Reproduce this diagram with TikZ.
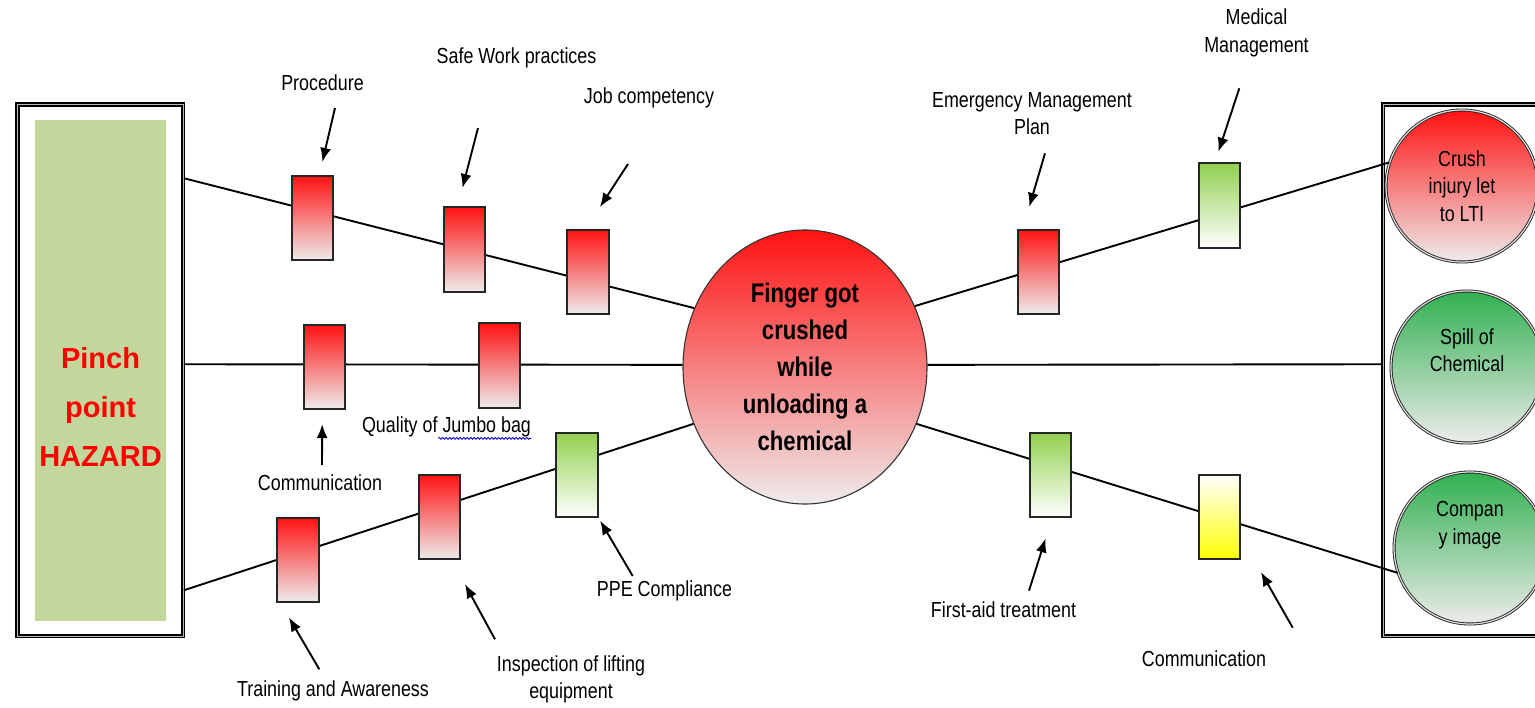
\documentclass[tikz,border=0pt]{standalone}
\usepackage{fontspec}
\setmainfont{Liberation Sans}
\newfontfamily\narrowsf{Liberation Sans}[FakeStretch=0.82]
\usepackage{tikz}
\usetikzlibrary{arrows.meta, shapes.geometric, decorations.pathmorphing}

\definecolor{barred}{RGB}{255,18,18}
\definecolor{barfade}{RGB}{238,236,236}
\definecolor{bargreen}{RGB}{146,208,80}
\definecolor{baryellow}{RGB}{255,255,0}
\definecolor{hazgreen}{RGB}{195,214,155}
\definecolor{conseqgreen}{RGB}{48,176,80}

\begin{document}
\begin{tikzpicture}[x=1pt, y=-1pt,
    frame/.style={draw=black, line width=1.8pt, double=gray!55,
      double distance=1pt, inner sep=0pt},
    barrier/.style={draw=black!85, line width=1.8pt, minimum width=41.5pt,
      minimum height=84.5pt, inner sep=0pt},
    redbar/.style={barrier, top color=barred, bottom color=barfade},
    greenbar/.style={barrier, top color=bargreen, bottom color=white},
    yellowbar/.style={barrier, top color=white, bottom color=baryellow},
    conseq/.style={circle, draw=black!85, line width=0.9pt, double=gray!25,
      double distance=1.2pt, minimum size=152pt, inner sep=0pt},
    lbl/.style={font=\narrowsf\fontsize{21.8}{27.5}\selectfont,
      align=center, inner sep=0pt},
    pathline/.style={line width=1.9pt},
    pointer/.style={-{Latex[length=14pt,width=11pt]}, line width=1.9pt}]

  \useasboundingbox (0,0) rectangle (1535,708);
  \clip (0,0) rectangle (1535,708);

  % hazard side
  \node[frame, minimum width=165.5pt, minimum height=531.5pt] (hazard) at (100.25,370.25) {};
  \node[fill=hazgreen, minimum width=131pt, minimum height=500.5pt, inner sep=0pt] (hazfill) at (100.5,370.25) {};
  \node[font=\bfseries\fontsize{29}{49}\selectfont, text=red, align=center, inner sep=0pt]
    (haztext) at (100.5,407) {Pinch\\point\\HAZARD};

  % consequences
  \node[frame, minimum width=174pt, minimum height=531.5pt] (outcome) at (1470,370.25) {};
  \node[conseq, top color=barred, bottom color=barfade] (c1) at (1462,186) {};
  \node[conseq, top color=conseqgreen, bottom color=barfade] (c2) at (1467,367) {};
  \node[conseq, top color=conseqgreen, bottom color=barfade] (c3) at (1470,548) {};
  \node[lbl] (c1txt) at (c1) {Crush\\injury let\\to LTI};
  \node[lbl] (c2txt) at ([yshift=17pt]c2) {Spill of\\Chemical};
  \node[lbl] (c3txt) at ([yshift=23pt]c3) {Compan\\y image};

  % top event
  \node[ellipse, draw=black!80, line width=1.1pt, minimum width=244pt, minimum height=274pt,
    inner sep=0pt, top color=barred, bottom color=barfade, align=center,
    font=\narrowsf\bfseries\fontsize{27}{37}\selectfont]
    (event) at (805,367) {Finger got\\crushed\\while\\unloading a\\chemical};

  % threat and consequence lines
  \draw[pathline] ([yshift=192pt]hazard.east) -- (event.152);
  \draw[pathline] ([yshift=6pt]hazard.east) -- (event.179);
  \draw[pathline] ([yshift=-220pt]hazard.east) -- (event.207);
  \draw[pathline] (event.29) -- (c1.162);
  \draw[pathline] (event.1) -- ([yshift=6pt]outcome.west);
  \draw[pathline] (event.333) -- (c3.199);

  % barriers
  \foreach \name/\x/\y/\kind in {%
    b1/312.5/218/redbar, b2/464.5/249.5/redbar, b3/588/272/redbar,%
    b4/324.5/367/redbar, b5/499.5/365.5/redbar,%
    b6/298/560/redbar, b7/439.5/517/redbar, b8/577/475/greenbar,%
    b9/1038.5/272/redbar, b10/1219.5/205.5/greenbar,%
    b11/1050.5/475/greenbar, b12/1219.5/517/yellowbar%
  }{ \node[\kind] (\name) at (\x,\y) {}; }

  % labels
  \foreach \name/\x/\y/\txt in {%
    proc/322.5/83/Procedure,%
    safe/516.5/58/Safe Work practices,%
    comp/649/98/Job competency,%
    comm/320/483/Communication,%
    qual/446.5/427/Quality of Jumbo bag,%
    train/333/691/Training and Awareness,%
    insp/571/679.5/{Inspection of lifting\\equipment},%
    ppe/664.5/591/PPE Compliance,%
    emerg/1032/113.5/{Emergency Management\\Plan},%
    medic/1256.5/33/{Medical\\Management},%
    aid/1003.5/610/First-aid treatment,%
    commr/1204/659/Communication%
  }{ \node[lbl] (\name) at (\x,\y) {\txt}; }

  \draw[blue!85!black, line width=0.8pt, decorate,
    decoration={snake, amplitude=1pt, segment length=3.5pt}]
    ([xshift=-93pt, yshift=-1pt]qual.south east) -- ([yshift=-1pt]qual.south east);

  % arrows
  \foreach \name/\x/\y in {%
    t1/335/108, t2/478/128, t3/628/164, t4/322/465,%
    t6/319.3/669.3, t7/495/639.3, t8/632.7/576,%
    t9/1045/153.3, t10/1239.3/88.3, t11/1029/590.7, t12/1292.7/627.7%
  }{ \coordinate (\name) at (\x,\y); }
  \coordinate (h12) at ([xshift=13pt]b12.south east);

  \foreach \from/\to/\gap in {%
    t1/b1.81/13.3, t2/b2.99/19, t3/b3.93/26, t4/b4.267/14,%
    t6/b6.248/16.6, t7/b7.286/27.4, t8/b8.south east/3,%
    t9/b9.110/22.9, t10/b10.96/11.2, t11/b11.272/21.3, t12/h12/13.8%
  }{ \draw[pointer, shorten >=\gap pt] (\from) -- (\to); }
\end{tikzpicture}
\end{document}
